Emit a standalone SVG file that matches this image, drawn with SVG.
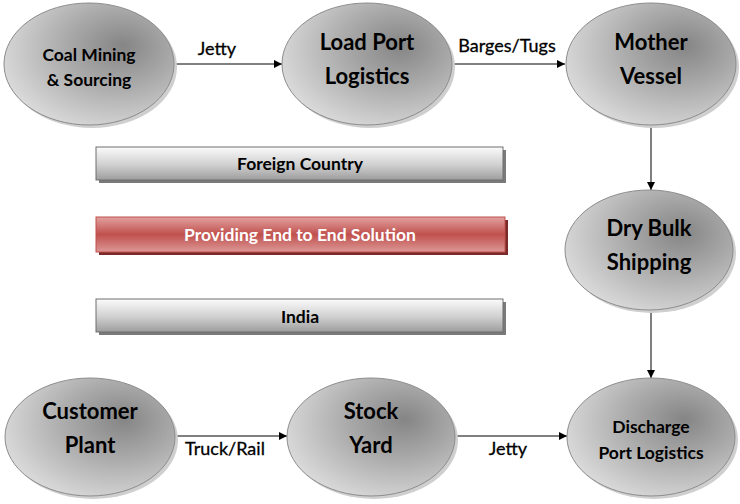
<svg xmlns="http://www.w3.org/2000/svg" width="740" height="504" viewBox="0 0 740 504">
<defs>
<radialGradient id="gEll" cx="0.66" cy="0.38" r="0.75" fx="0.7" fy="0.35">
<stop offset="0" stop-color="#858585"/>
<stop offset="0.45" stop-color="#acacac"/>
<stop offset="1" stop-color="#e0e0e0"/>
</radialGradient>
<linearGradient id="gBar" x1="0" y1="0" x2="0" y2="1">
<stop offset="0" stop-color="#fbfbfb"/>
<stop offset="0.55" stop-color="#cfcfcf"/>
<stop offset="1" stop-color="#9d9d9d"/>
</linearGradient>
<linearGradient id="gRed" x1="0" y1="0" x2="0" y2="1">
<stop offset="0" stop-color="#e2a2a0"/>
<stop offset="0.5" stop-color="#c0504d"/>
<stop offset="1" stop-color="#dc9896"/>
</linearGradient>
<marker id="arr" viewBox="0 0 10 10" refX="10" refY="5" markerWidth="8" markerHeight="8" markerUnits="userSpaceOnUse" orient="auto">
<path d="M0,0 L10,5 L0,10 z" fill="#000"/>
</marker>
</defs>
<style>
.ell{fill:url(#gEll);stroke:#8c8c8c;stroke-width:1}
.sh{fill:#cfcfcf}
.bar{fill:url(#gBar);stroke:#6e6e6e;stroke-width:1}
.bsh{fill:#7a7a7a}
.red{fill:url(#gRed);stroke:#c0504d;stroke-width:1}
.rsh{fill:#7a2a28}
text{font-family:Lato,"Liberation Sans",sans-serif;font-weight:bold;fill:#000;text-anchor:middle}
.big{font-size:22px}
.mid{font-size:17.5px}
.lab{font-size:18px;font-weight:normal;stroke:#000;stroke-width:0.3}
.wt{fill:#fff}
.con{stroke:#000;stroke-width:1;fill:none;marker-end:url(#arr)}
</style>
<rect width="740" height="504" fill="#fff"/>
<g id="connectors">
<line class="con" x1="175" y1="64" x2="282" y2="64"/>
<line class="con" x1="453" y1="64" x2="565" y2="64"/>
<line class="con" x1="651" y1="125" x2="651" y2="190"/>
<line class="con" x1="651" y1="310" x2="651" y2="378"/>
<line class="con" x1="175" y1="436" x2="287" y2="436"/>
<line class="con" x1="455" y1="436" x2="567" y2="436"/>
<text class="lab" x="217" y="55">Jetty</text>
<text class="lab" x="507" y="52">Barges/Tugs</text>
<text class="lab" x="225" y="455">Truck/Rail</text>
<text class="lab" x="508" y="455">Jetty</text>
</g>
<g id="coal">
<ellipse class="sh" cx="92" cy="67" rx="85" ry="61"/>
<ellipse class="ell" cx="89" cy="64" rx="85" ry="61"/>
<text class="mid" x="89" y="61">Coal Mining</text>
<text class="mid" x="89" y="86">&amp; Sourcing</text>
</g>
<g id="loadport">
<ellipse class="sh" cx="370" cy="67" rx="85" ry="61"/>
<ellipse class="ell" cx="367" cy="64" rx="85" ry="61"/>
<text class="big" x="367" y="50">Load Port</text>
<text class="big" x="367" y="84">Logistics</text>
</g>
<g id="mother">
<ellipse class="sh" cx="654" cy="67" rx="85" ry="61"/>
<ellipse class="ell" cx="651" cy="64" rx="85" ry="61"/>
<text class="big" x="651" y="50">Mother</text>
<text class="big" x="651" y="84">Vessel</text>
</g>
<g id="drybulk">
<ellipse class="sh" cx="652" cy="253" rx="84" ry="60"/>
<ellipse class="ell" cx="649" cy="250" rx="84" ry="60"/>
<text class="big" x="649" y="236">Dry Bulk</text>
<text class="big" x="649" y="270">Shipping</text>
</g>
<g id="discharge">
<ellipse class="sh" cx="654" cy="440" rx="84" ry="59"/>
<ellipse class="ell" cx="651" cy="437" rx="84" ry="59"/>
<text class="mid" x="651" y="433">Discharge</text>
<text class="mid" x="651" y="459">Port Logistics</text>
</g>
<g id="stockyard">
<ellipse class="sh" cx="374" cy="440" rx="84" ry="59"/>
<ellipse class="ell" cx="371" cy="437" rx="84" ry="59"/>
<text class="big" x="371" y="419">Stock</text>
<text class="big" x="371" y="453">Yard</text>
</g>
<g id="customer">
<ellipse class="sh" cx="93" cy="440" rx="85" ry="59"/>
<ellipse class="ell" cx="90" cy="437" rx="85" ry="59"/>
<text class="big" x="90" y="419">Customer</text>
<text class="big" x="90" y="453">Plant</text>
</g>
<g id="foreign">
<rect class="bsh" x="99" y="150" width="407" height="33"/>
<rect class="bar" x="96" y="147" width="407" height="33"/>
<text class="mid" x="300" y="170">Foreign Country</text>
</g>
<g id="solution">
<rect class="rsh" x="99" y="220" width="409" height="35"/>
<rect class="red" x="96" y="217" width="409" height="35"/>
<text class="mid wt" x="300" y="241">Providing End to End Solution</text>
</g>
<g id="india">
<rect class="bsh" x="99" y="302" width="407" height="33"/>
<rect class="bar" x="96" y="299" width="407" height="33"/>
<text class="mid" x="300" y="323">India</text>
</g>
</svg>
